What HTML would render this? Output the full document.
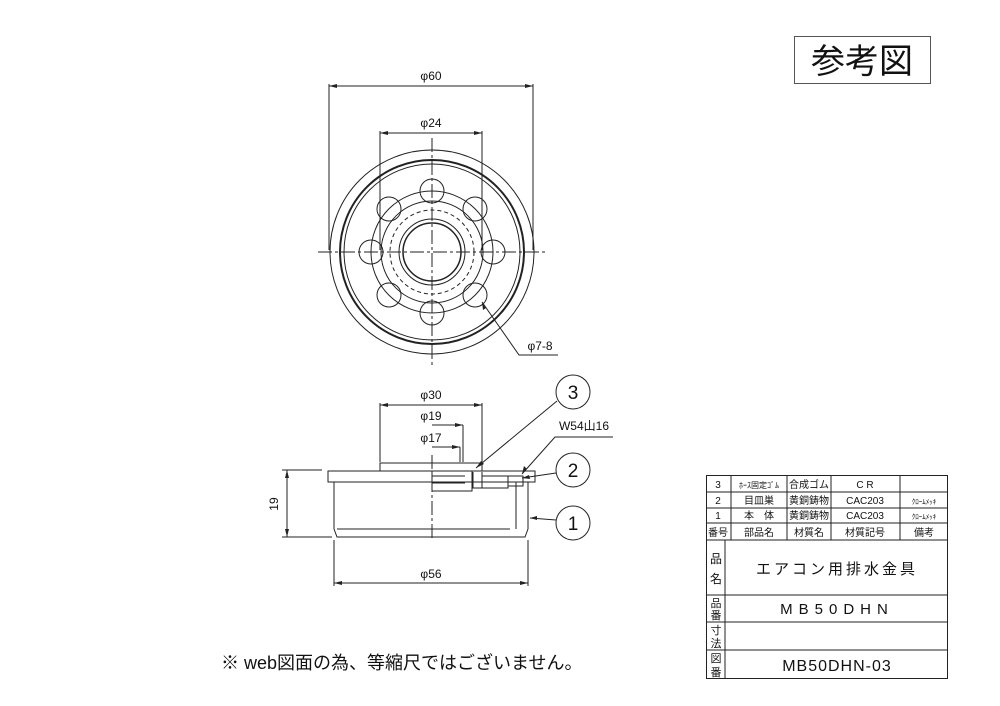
<!DOCTYPE html>
<html><head><meta charset="utf-8"><style>
html,body{margin:0;padding:0;background:#fff;}
svg{display:block;}
text{font-family:"Liberation Sans","Noto Sans CJK JP",sans-serif;fill:#111;}
</style></head><body>
<svg width="1000" height="706" viewBox="0 0 1000 706" xmlns="http://www.w3.org/2000/svg">
<g fill="none" stroke="#222" stroke-width="1">
<!-- top view -->
<line x1="329" y1="84" x2="329" y2="250"/><line x1="533" y1="84" x2="533" y2="250"/>
<line x1="329" y1="86" x2="533" y2="86"/>
<line x1="380" y1="131" x2="380" y2="250"/><line x1="482" y1="131" x2="482" y2="250"/>
<line x1="380" y1="133" x2="482" y2="133"/>
<circle cx="432" cy="252" r="102"/>
<circle cx="432" cy="252" r="92" stroke-width="2"/>
<circle cx="432" cy="252" r="88"/>
<circle cx="432" cy="252" r="61"/>
<circle cx="432" cy="252" r="51"/>
<circle cx="432" cy="252" r="42" stroke-dasharray="4,3"/>
<circle cx="432" cy="252" r="33"/>
<circle cx="432" cy="252" r="29" stroke-width="1.5"/>
<circle cx="432" cy="191" r="12"/><circle cx="432" cy="313" r="12"/>
<circle cx="371" cy="252" r="12"/><circle cx="493" cy="252" r="12"/>
<circle cx="389" cy="209" r="12"/><circle cx="475" cy="209" r="12"/>
<circle cx="389" cy="295" r="12"/><circle cx="475" cy="295" r="12"/>
<line x1="318" y1="252" x2="546" y2="252" stroke-dasharray="14,3,3,3"/>
<line x1="432" y1="138" x2="432" y2="366" stroke-dasharray="14,3,3,3"/>
<polyline points="482,302 519,355 558,355"/>
<!-- side view -->
<line x1="380" y1="403" x2="380" y2="462"/><line x1="482" y1="403" x2="482" y2="462"/>
<line x1="380" y1="405" x2="482" y2="405"/>
<line x1="432" y1="425" x2="463" y2="425"/><line x1="463" y1="425" x2="463" y2="462"/>
<line x1="432" y1="447" x2="460" y2="447"/><line x1="460" y1="447" x2="460" y2="462"/>
<rect x="380" y="463" width="102" height="8"/>
<rect x="328" y="471" width="207" height="11"/>
<rect x="432" y="471" width="40" height="20"/>
<line x1="432" y1="476" x2="465" y2="476"/><line x1="432" y1="483" x2="465" y2="483"/>
<polyline points="473,472 473,488 482,488 482,472"/>
<polyline points="482,476 508,476 508,488 482,488"/>
<rect x="508" y="476" width="15" height="10"/>
<line x1="334" y1="482" x2="334" y2="529"/><line x1="528" y1="482" x2="528" y2="529"/>
<line x1="516" y1="482" x2="516" y2="529"/>
<polyline points="334,529 337,537 525,537 528,529"/>
<line x1="337" y1="529" x2="510" y2="529"/>
<line x1="432" y1="455" x2="432" y2="540" stroke-dasharray="14,3,3,3"/>
<line x1="282" y1="470" x2="322" y2="470"/><line x1="282" y1="537" x2="332" y2="537"/>
<line x1="287" y1="470" x2="287" y2="537"/>
<line x1="334" y1="540" x2="334" y2="586"/><line x1="528" y1="540" x2="528" y2="586"/>
<line x1="334" y1="583" x2="528" y2="583"/>
<circle cx="573" cy="392" r="17"/><circle cx="573" cy="470" r="17"/><circle cx="573" cy="523" r="17"/>
<line x1="557" y1="401" x2="476" y2="468"/>
<polyline points="613,437 555,437 522,474"/>
<line x1="556" y1="473" x2="522" y2="478"/>
<line x1="556" y1="520" x2="530" y2="518"/>
<!-- ref box -->
<rect x="794.5" y="36.5" width="136" height="47" stroke="#555"/>
<!-- table -->
<rect x="706.5" y="475.5" width="241" height="203"/>
<line x1="706" y1="492" x2="948" y2="492"/><line x1="706" y1="508" x2="948" y2="508"/>
<line x1="706" y1="523" x2="948" y2="523"/><line x1="706" y1="540" x2="948" y2="540"/>
<line x1="706" y1="595" x2="948" y2="595"/><line x1="706" y1="622" x2="948" y2="622"/>
<line x1="706" y1="650" x2="948" y2="650"/>
<line x1="731" y1="475" x2="731" y2="540"/><line x1="787" y1="475" x2="787" y2="540"/>
<line x1="831" y1="475" x2="831" y2="540"/><line x1="900" y1="475" x2="900" y2="540"/>
<line x1="725" y1="540" x2="725" y2="678"/>
</g>
<g fill="#222">
<polygon points="329,86 337,84 337,88"/><polygon points="533,86 525,84 525,88"/>
<polygon points="380,133 388,131 388,135"/><polygon points="482,133 474,131 474,135"/>
<polygon points="380,405 388,403 388,407"/><polygon points="482,405 474,403 474,407"/>
<polygon points="463,425 455,423 455,427"/><polygon points="460,447 452,445 452,449"/>
<polygon points="287,470 285,478 289,478"/><polygon points="287,537 285,529 289,529"/>
<polygon points="334,583 342,581 342,585"/><polygon points="528,583 520,581 520,585"/>
<polygon points="476,468 481,461 484,464"/><polygon points="522,474 524,466 527,469"/>
<polygon points="522,478 529,475 530,479"/><polygon points="530,518 537,516 537,520"/>
<polygon points="482,302 483,310 486,308"/>
</g>
<g font-size="12" text-anchor="middle">
<text x="431" y="80">φ60</text><text x="431" y="127">φ24</text>
<text x="540" y="350">φ7-8</text>
<text x="431" y="399">φ30</text><text x="431" y="420">φ19</text><text x="431" y="442">φ17</text>
<text x="584" y="430">W54山16</text>
<text x="431" y="578">φ56</text>
<text x="278" y="504" transform="rotate(-90 278 504)">19</text>
<text x="573" y="399" font-size="19">3</text><text x="573" y="477" font-size="19">2</text><text x="573" y="530" font-size="19">1</text>
</g>
<text x="862" y="73" font-size="34" text-anchor="middle">参考図</text>
<text x="221" y="669" font-size="18">※ web図面の為、等縮尺ではございません。</text>
<g font-size="10" text-anchor="middle">
<text x="718" y="488">3</text><text x="759" y="488" font-size="8">ﾎｰｽ固定ｺﾞﾑ</text><text x="809" y="488">合成ゴム</text><text x="865" y="488">C R</text>
<text x="718" y="504">2</text><text x="759" y="504">目皿巣</text><text x="809" y="504">黄銅鋳物</text><text x="865" y="504">CAC203</text><text x="924" y="504" font-size="7">ｸﾛｰﾑﾒｯｷ</text>
<text x="718" y="519">1</text><text x="759" y="519">本　体</text><text x="809" y="519">黄銅鋳物</text><text x="865" y="519">CAC203</text><text x="924" y="519" font-size="7">ｸﾛｰﾑﾒｯｷ</text>
<text x="718" y="536">番号</text><text x="759" y="536">部品名</text><text x="809" y="536">材質名</text><text x="865" y="536">材質記号</text><text x="924" y="536">備考</text>
<text x="716" y="563" font-size="12">品</text><text x="716" y="583" font-size="12">名</text>
<text x="716" y="607" font-size="11">品</text><text x="716" y="619" font-size="11">番</text>
<text x="716" y="634" font-size="11">寸</text><text x="716" y="647" font-size="11">法</text>
<text x="716" y="662" font-size="11">図</text><text x="716" y="676" font-size="11">番</text>
<text x="837" y="574" font-size="15" letter-spacing="3">エアコン用排水金具</text>
<text x="837" y="614" font-size="15" letter-spacing="6">MB50DHN</text>
<text x="837" y="671" font-size="16" letter-spacing="1">MB50DHN-03</text>
</g>
</svg>
</body></html>
